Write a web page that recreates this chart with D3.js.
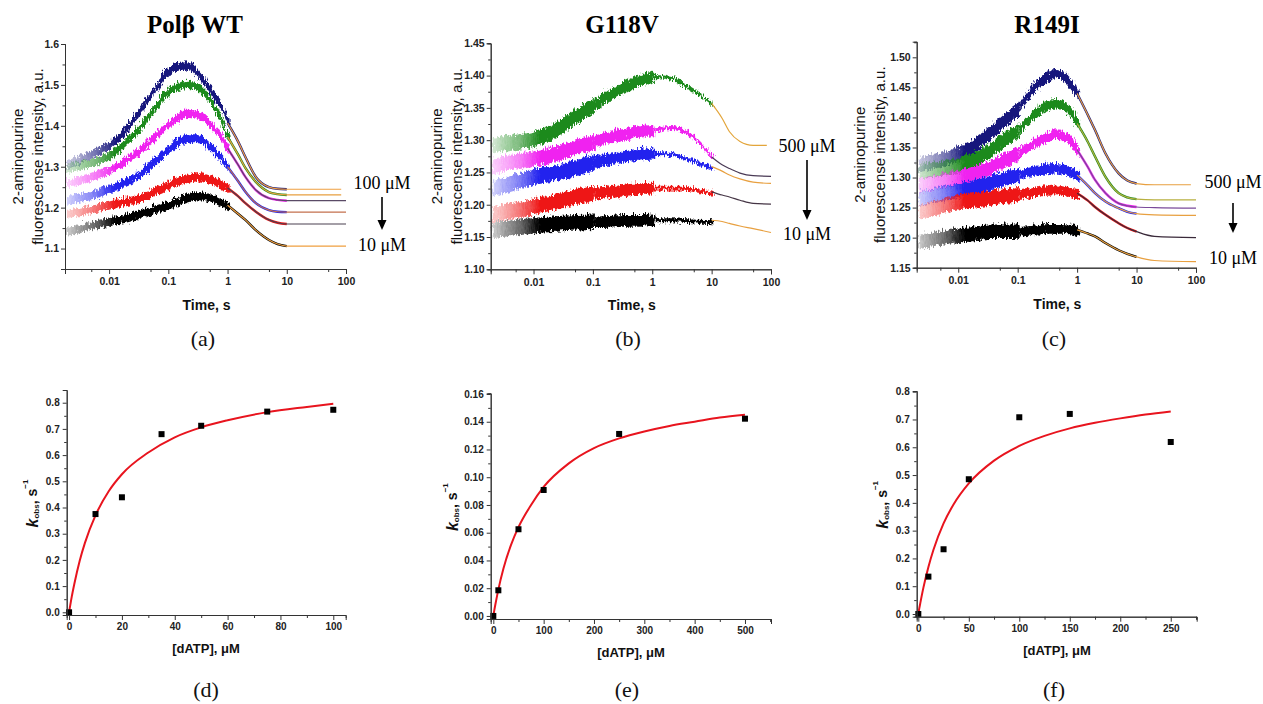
<!DOCTYPE html>
<html>
<head>
<meta charset="utf-8">
<script src="https://cdn.jsdelivr.net/npm/d3@7"></script>
<style>
  body { margin: 0; background: #fff; }
  svg { display: block; }
</style>
</head>
<body>
<svg id="fig" width="1263" height="704"></svg>
<script>
// Trace colours, highest concentration first
const traceColors = ["#16167c", "#1c8a1c", "#f024f0", "#2020ee", "#ee1616", "#000000"];

// (a) Polβ WT – stopped-flow traces (noisy part, up to 1 s)
const wtTimes = [0.0018, 0.005, 0.01, 0.02, 0.03, 0.05, 0.1, 0.2, 0.3, 0.5, 0.7, 1];
const wtTraces = [
    [1.309, 1.336, 1.358, 1.402, 1.439, 1.483, 1.540, 1.550, 1.532, 1.488, 1.455, 1.407],
    [1.300, 1.315, 1.333, 1.370, 1.397, 1.440, 1.490, 1.505, 1.498, 1.463, 1.425, 1.373],
    [1.262, 1.280, 1.297, 1.322, 1.341, 1.370, 1.410, 1.434, 1.430, 1.407, 1.380, 1.345],
    [1.222, 1.235, 1.250, 1.270, 1.284, 1.310, 1.348, 1.372, 1.372, 1.350, 1.328, 1.300],
    [1.190, 1.200, 1.211, 1.220, 1.226, 1.240, 1.260, 1.276, 1.279, 1.272, 1.262, 1.248],
    [1.145, 1.160, 1.170, 1.180, 1.187, 1.197, 1.211, 1.228, 1.233, 1.226, 1.218, 1.206]
];
const wtBreaks = [];
const wtNoise = [0.010];
const wtFitTimes = [1, 1.5, 2, 3, 5, 7, 10, 100];
const wtFits = [
    [1.407, 1.362, 1.324, 1.275, 1.250, 1.246, 1.245, 1.245],
    [1.373, 1.330, 1.297, 1.263, 1.238, 1.233, 1.231, 1.231],
    [1.345, 1.305, 1.275, 1.243, 1.223, 1.219, 1.217, 1.217],
    [1.300, 1.265, 1.239, 1.211, 1.194, 1.190, 1.189, 1.189],
    [1.248, 1.228, 1.211, 1.190, 1.170, 1.163, 1.160, 1.160],
    [1.206, 1.185, 1.170, 1.145, 1.121, 1.111, 1.106, 1.106]
];
const wtFitEnds = [83, 83, 100, 100, 100, 100];
const wtFitColors = ["#f0a040", "#e8a040", "#5a4a66", "#c4704e", "#4a4050", "#f0a040"];

// (b) G118V
const g118vTimes = [0.0019, 0.005, 0.01, 0.02, 0.03, 0.05, 0.1, 0.2, 0.3, 0.5, 1, 2, 3, 5, 10];
const g118vTraces = [
    [1.295, 1.300, 1.305, 1.316, 1.326, 1.340, 1.357, 1.375, 1.383, 1.393, 1.401, 1.398, 1.390, 1.378, 1.357],
    [1.262, 1.270, 1.274, 1.280, 1.285, 1.292, 1.300, 1.308, 1.311, 1.315, 1.318, 1.322, 1.318, 1.305, 1.274],
    [1.228, 1.238, 1.246, 1.251, 1.254, 1.260, 1.269, 1.274, 1.277, 1.280, 1.282, 1.280, 1.276, 1.269, 1.259],
    [1.187, 1.195, 1.200, 1.206, 1.210, 1.215, 1.220, 1.223, 1.225, 1.227, 1.228, 1.228, 1.228, 1.225, 1.220],
    [1.163, 1.168, 1.171, 1.173, 1.174, 1.175, 1.176, 1.177, 1.178, 1.178, 1.179, 1.179, 1.178, 1.177, 1.176]
];
const g118vBreaks = [0.1, 1];
const g118vNoise = [0.012, 0.009, 0.003];
const g118vFitTimes = [10, 15, 20, 30, 50, 100];
const g118vFits = [
    [1.357, 1.334, 1.313, 1.298, 1.292, 1.292],
    [1.274, 1.262, 1.256, 1.249, 1.245, 1.244],
    [1.259, 1.252, 1.246, 1.240, 1.235, 1.233],
    [1.220, 1.215, 1.212, 1.207, 1.202, 1.201],
    [1.176, 1.174, 1.171, 1.167, 1.163, 1.157]
];
const g118vFitEnds = [85, 100, 100, 100, 100];
const g118vFitColors = ["#e3a53a", "#4a3a55", "#e8a040", "#453545", "#e8a040"];

// (c) R149I
const r149iTimes = [0.002, 0.005, 0.01, 0.02, 0.03, 0.05, 0.1, 0.2, 0.3, 0.4, 0.5, 0.7, 1];
const r149iTraces = [
    [1.324, 1.333, 1.343, 1.360, 1.374, 1.393, 1.418, 1.457, 1.470, 1.476, 1.474, 1.462, 1.440],
    [1.312, 1.318, 1.324, 1.336, 1.346, 1.362, 1.382, 1.412, 1.422, 1.426, 1.424, 1.414, 1.390],
    [1.290, 1.297, 1.304, 1.312, 1.318, 1.328, 1.343, 1.362, 1.370, 1.374, 1.373, 1.366, 1.346],
    [1.268, 1.275, 1.282, 1.288, 1.293, 1.299, 1.307, 1.315, 1.317, 1.318, 1.317, 1.313, 1.304],
    [1.246, 1.255, 1.263, 1.266, 1.268, 1.271, 1.274, 1.279, 1.281, 1.282, 1.281, 1.279, 1.274],
    [1.196, 1.202, 1.207, 1.210, 1.213, 1.213, 1.213, 1.216, 1.218, 1.218, 1.218, 1.217, 1.213]
];
const r149iBreaks = [0.1];
const r149iNoise = [0.012, 0.008];
const r149iFitTimes = [1, 1.5, 2, 3, 5, 7, 10, 20, 100];
const r149iFits = [
    [1.440, 1.405, 1.379, 1.340, 1.307, 1.295, 1.290, 1.288, 1.288],
    [1.390, 1.360, 1.335, 1.301, 1.274, 1.267, 1.264, 1.263, 1.263],
    [1.346, 1.318, 1.296, 1.274, 1.257, 1.253, 1.251, 1.250, 1.249],
    [1.304, 1.287, 1.274, 1.260, 1.249, 1.243, 1.240, 1.238, 1.237],
    [1.274, 1.262, 1.251, 1.238, 1.224, 1.216, 1.210, 1.202, 1.200],
    [1.213, 1.207, 1.202, 1.191, 1.179, 1.173, 1.168, 1.162, 1.160]
];
const r149iFitEnds = [82, 100, 100, 100, 100, 100];
const r149iFitColors = ["#e8a040", "#b8b040", "#7a4a9a", "#e8a040", "#3a2a3a", "#e8a040"];

// (d)-(f) kobs vs [dATP]
const dConc = [0, 10, 20, 35, 50, 75, 100];
const dKobs = [0, 0.375, 0.439, 0.680, 0.712, 0.766, 0.773];
const dFitConc = [0, 1, 2, 4, 6, 10, 15, 20, 30, 40, 50, 60, 75, 90, 100];
const dFitK = [0, 0.059, 0.109, 0.196, 0.265, 0.370, 0.462, 0.527, 0.610, 0.668, 0.706, 0.733, 0.764, 0.784, 0.796];

const eConc = [0, 10, 50, 100, 250, 500];
const eKobs = [0, 0.0185, 0.0625, 0.0908, 0.1312, 0.1422];
const eFitConc = [0, 2, 5, 10, 20, 35, 50, 75, 100, 150, 200, 250, 300, 350, 400, 450, 500];
const eFitK = [0, 0.0042, 0.0100, 0.0190, 0.0340, 0.0510, 0.0640, 0.0800, 0.0930, 0.1100, 0.1210, 0.1280, 0.1330, 0.1370, 0.1400, 0.1430, 0.1450];

const fConc = [0, 10, 25, 50, 100, 150, 250];
const fKobs = [0, 0.1345, 0.233, 0.485, 0.708, 0.720, 0.619];
const fFitConc = [0, 1, 2, 5, 10, 15, 25, 35, 50, 75, 100, 125, 150, 175, 200, 225, 250];
const fFitK = [0, 0.021, 0.040, 0.094, 0.169, 0.231, 0.326, 0.395, 0.470, 0.552, 0.605, 0.641, 0.668, 0.688, 0.704, 0.718, 0.729];

const svg = d3.select("#fig");
const defs = svg.append("defs");

// jagged texture for the noisy traces
const jitter = defs.append("filter").attr("id", "jitter")
    .attr("x", "-5%").attr("y", "-20%").attr("width", "110%").attr("height", "140%");
jitter.append("feTurbulence").attr("type", "turbulence")
    .attr("baseFrequency", "0.9 0.12").attr("numOctaves", 2).attr("seed", 4).attr("result", "t");
jitter.append("feDisplacementMap").attr("in", "SourceGraphic").attr("in2", "t")
    .attr("scale", 7).attr("xChannelSelector", "R").attr("yChannelSelector", "G");

const sans = "'Liberation Sans', Arial, sans-serif";
const serif = "'Liberation Serif', 'Times New Roman', serif";

function styleAxis(sel, size) {
    sel.attr("font-family", sans).attr("font-size", size).attr("font-weight", "bold");
    sel.selectAll("path, line").attr("stroke", "#333");
    sel.selectAll("text").attr("fill", "#222");
}

function drawAxes(g, x, y, opt) {
    let xa = g.append("g").attr("transform", `translate(0,${opt.bottom})`)
        .call(d3.axisBottom(x).tickValues(opt.xMajor).tickSize(5).tickPadding(opt.xPad).tickFormat(opt.xFormat));
    styleAxis(xa, opt.fontSize);
    let xm = g.append("g").attr("transform", `translate(0,${opt.bottom})`)
        .call(d3.axisBottom(x).tickValues(opt.xMinor).tickSize(3).tickFormat(""));
    styleAxis(xm, opt.fontSize);
    let ya = g.append("g").attr("transform", `translate(${opt.left},0)`)
        .call(d3.axisLeft(y).tickValues(opt.yMajor).tickSize(4).tickPadding(opt.yPad).tickFormat(opt.yFormat));
    styleAxis(ya, opt.fontSize);
    let ym = g.append("g").attr("transform", `translate(${opt.left},0)`)
        .call(d3.axisLeft(y).tickValues(opt.yMinor).tickSize(2.5).tickFormat(""));
    styleAxis(ym, opt.fontSize);
}

function kineticPanel(p) {
    const g = svg.append("g");
    const x = d3.scaleLog().domain(p.xDomain).range([p.left, p.right]);
    const y = d3.scaleLinear().domain(p.yDomain).range([p.bottom, p.top]);

    // noisy traces as bands, fading out towards the sparse early times
    const bands = g.append("g").attr("filter", "url(#jitter)");
    const cuts = [p.times[0]].concat(p.breaks, [p.times[p.times.length - 1]]);
    p.traces.forEach((vals, i) => {
        const gid = `fade-${p.id}-${i}`;
        const col = traceColors[p.colorIndex[i]];
        const grad = defs.append("linearGradient").attr("id", gid)
            .attr("gradientUnits", "userSpaceOnUse")
            .attr("x1", x(p.times[0])).attr("x2", x(0.012)).attr("y1", 0).attr("y2", 0);
        grad.append("stop").attr("offset", 0).attr("stop-color", col).attr("stop-opacity", 0.2);
        grad.append("stop").attr("offset", 0.6).attr("stop-color", col).attr("stop-opacity", 0.6);
        grad.append("stop").attr("offset", 1).attr("stop-color", col).attr("stop-opacity", 1);

        const pts = p.times.map((t, j) => ({t: t, v: vals[j]}));
        for (let s = 0; s < cuts.length - 1; s++) {
            const seg = pts.filter(d => d.t >= cuts[s] && d.t <= cuts[s + 1]);
            const n = p.noise[s];
            bands.append("path").datum(seg)
                .attr("d", d3.area()
                    .x(d => x(d.t))
                    .y0(d => y(d.v - n))
                    .y1(d => y(d.v + n))
                    .curve(d3.curveMonotoneX))
                .attr("fill", `url(#${gid})`);
        }
    });

    // fitted curves and plateaus
    const line = d3.line().x(d => x(d.t)).y(d => y(d.v)).curve(d3.curveMonotoneX);
    p.fits.forEach((vals, i) => {
        const last = vals.length - 1;
        const pts = p.fitTimes.map((t, j) => ({t: j === last ? p.fitEnds[i] : t, v: vals[j]}));
        const colored = pts.filter(d => d.t <= 10);
        if (colored.length > 1) {
            g.append("path").datum(colored).attr("d", line)
                .attr("fill", "none").attr("stroke", traceColors[p.colorIndex[i]]).attr("stroke-width", 2.4);
        }
        g.append("path").datum(pts).attr("d", line)
            .attr("fill", "none").attr("stroke", p.fitColors[i]).attr("stroke-width", 1.2);
    });

    drawAxes(g, x, y, {
        left: p.left, bottom: p.bottom, fontSize: 10.5,
        xMajor: [0.01, 0.1, 1, 10, 100], xMinor: [0.005, 0.05, 0.5, 5, 50],
        xFormat: d => String(d), xPad: 4,
        yMajor: p.yMajor, yMinor: p.yMinor, yFormat: d3.format(p.yFmt), yPad: 2
    });

    const midY = (p.top + p.bottom) / 2;
    [["2-aminopurine", p.yTitleX[0]], ["fluorescense intensity, a.u.", p.yTitleX[1]]].forEach(([txt, off]) => {
        g.append("text")
            .attr("transform", `translate(${p.left - off},${midY}) rotate(-90)`)
            .attr("text-anchor", "middle").attr("dominant-baseline", "central")
            .attr("font-family", sans).attr("font-size", 15).attr("fill", "#111")
            .text(txt);
    });
    g.append("text").attr("x", (p.left + p.right) / 2 + 1).attr("y", p.bottom + 41)
        .attr("text-anchor", "middle").attr("font-family", sans).attr("font-size", 14)
        .attr("font-weight", "bold").attr("fill", "#111").text("Time, s");

    g.append("text").attr("x", p.titleX).attr("y", 33)
        .attr("text-anchor", "middle").attr("font-family", serif).attr("font-size", 25)
        .attr("font-weight", "bold").attr("fill", "#000").text(p.title);

    g.append("text").attr("x", p.letterX).attr("y", 346)
        .attr("text-anchor", "middle").attr("font-family", serif).attr("font-size", 22)
        .attr("fill", "#111").text(p.letter);

    // concentration annotation
    const a = p.arrow;
    g.append("text").attr("x", a.x).attr("y", a.topY).attr("text-anchor", "middle")
        .attr("dominant-baseline", "central").attr("font-family", serif).attr("font-size", 18)
        .attr("fill", "#000").text(p.highLabel);
    g.append("text").attr("x", a.x).attr("y", a.botY).attr("text-anchor", "middle")
        .attr("dominant-baseline", "central").attr("font-family", serif).attr("font-size", 18)
        .attr("fill", "#000").text("10 μM");
    g.append("line").attr("x1", a.x).attr("x2", a.x).attr("y1", a.y1).attr("y2", a.y2 - 8)
        .attr("stroke", "#000").attr("stroke-width", 1.6);
    g.append("path")
        .attr("d", `M${a.x - 4.5},${a.y2 - 10}L${a.x + 4.5},${a.y2 - 10}L${a.x},${a.y2}Z`)
        .attr("fill", "#000");
}

function bindingPanel(p) {
    const g = svg.append("g");
    const x = d3.scaleLinear().domain(p.xDomain).range([p.left, p.right]);
    const y = d3.scaleLinear().domain(p.yDomain).range([p.bottom, p.top]);

    const fit = p.fitX.map((c, i) => ({c: c, k: p.fitY[i]}));
    g.append("path").datum(fit)
        .attr("d", d3.line().x(d => x(d.c)).y(d => y(d.k)).curve(d3.curveMonotoneX))
        .attr("fill", "none").attr("stroke", "#e8141e").attr("stroke-width", 2);

    const pts = p.conc.map((c, i) => ({c: c, k: p.kobs[i]}));
    g.selectAll("rect.pt").data(pts).enter().append("rect")
        .attr("x", d => x(d.c) - 3).attr("y", d => y(d.k) - 3)
        .attr("width", 6).attr("height", 6).attr("fill", "#000");

    drawAxes(g, x, y, {
        left: p.left, bottom: p.bottom, fontSize: 10,
        xMajor: p.xMajor, xMinor: p.xMinor, xFormat: d3.format("d"), xPad: 3,
        yMajor: p.yMajor, yMinor: p.yMinor, yFormat: d3.format(p.yFmt), yPad: 3
    });

    const midY = (p.top + p.bottom) / 2 + 1;
    const lab = g.append("text")
        .attr("transform", `translate(${p.left - p.yTitleX},${midY}) rotate(-90)`)
        .attr("text-anchor", "middle").attr("dominant-baseline", "central")
        .attr("font-family", sans).attr("font-weight", "bold").attr("fill", "#111");
    lab.append("tspan").attr("font-size", 16).attr("font-style", "italic").text("k");
    lab.append("tspan").attr("font-size", 8).attr("baseline-shift", "-4").text("obs");
    lab.append("tspan").attr("font-size", 14).text(", s");
    lab.append("tspan").attr("font-size", 8).attr("baseline-shift", "7").text("−1");

    g.append("text").attr("x", p.titleX).attr("y", p.bottom + 38)
        .attr("text-anchor", "middle").attr("font-family", sans).attr("font-size", 13)
        .attr("font-weight", "bold").attr("fill", "#111").text("[dATP], μM");

    g.append("text").attr("x", p.letterX).attr("y", 697)
        .attr("text-anchor", "middle").attr("font-family", serif).attr("font-size", 22)
        .attr("fill", "#111").text(p.letter);
}

kineticPanel({
    id: "a", title: "Polβ WT", titleX: 195, letter: "(a)", letterX: 203,
    left: 65, right: 346, top: 44, bottom: 269,
    xDomain: [0.0018, 100], yDomain: [1.05, 1.6],
    yMajor: [1.1, 1.2, 1.3, 1.4, 1.5, 1.6], yMinor: [1.05, 1.15, 1.25, 1.35, 1.45, 1.55], yFmt: ".1f",
    yTitleX: [48, 28],
    times: wtTimes, traces: wtTraces, breaks: wtBreaks, noise: wtNoise,
    fitTimes: wtFitTimes, fits: wtFits, fitEnds: wtFitEnds, fitColors: wtFitColors,
    colorIndex: [0, 1, 2, 3, 4, 5],
    highLabel: "100 μM", arrow: {x: 382, topY: 183, botY: 245, y1: 197, y2: 230}
});

kineticPanel({
    id: "b", title: "G118V", titleX: 622, letter: "(b)", letterX: 628,
    left: 490.7, right: 771, top: 43.3, bottom: 269.3,
    xDomain: [0.0019, 100], yDomain: [1.10, 1.45],
    yMajor: [1.10, 1.15, 1.20, 1.25, 1.30, 1.35, 1.40, 1.45],
    yMinor: [1.125, 1.175, 1.225, 1.275, 1.325, 1.375, 1.425], yFmt: ".2f",
    yTitleX: [54, 34],
    times: g118vTimes, traces: g118vTraces, breaks: g118vBreaks, noise: g118vNoise,
    fitTimes: g118vFitTimes, fits: g118vFits, fitEnds: g118vFitEnds, fitColors: g118vFitColors,
    colorIndex: [1, 2, 3, 4, 5],
    highLabel: "500 μM", arrow: {x: 807, topY: 146, botY: 234, y1: 160, y2: 220}
});

kineticPanel({
    id: "c", title: "R149I", titleX: 1047, letter: "(c)", letterX: 1054,
    left: 916.7, right: 1196, top: 41.7, bottom: 267.7,
    xDomain: [0.002, 100], yDomain: [1.15, 1.526],
    yMajor: [1.15, 1.20, 1.25, 1.30, 1.35, 1.40, 1.45, 1.50],
    yMinor: [1.175, 1.225, 1.275, 1.325, 1.375, 1.425, 1.475, 1.525], yFmt: ".2f",
    yTitleX: [57, 37],
    times: r149iTimes, traces: r149iTraces, breaks: r149iBreaks, noise: r149iNoise,
    fitTimes: r149iFitTimes, fits: r149iFits, fitEnds: r149iFitEnds, fitColors: r149iFitColors,
    colorIndex: [0, 1, 2, 3, 4, 5],
    highLabel: "500 μM", arrow: {x: 1233, topY: 182, botY: 258, y1: 203, y2: 233}
});

bindingPanel({
    letter: "(d)", letterX: 206, titleX: 206,
    left: 66.7, right: 345.7, top: 390, bottom: 615,
    xDomain: [-0.9, 104.7], yDomain: [-0.0103, 0.8485],
    xMajor: [0, 20, 40, 60, 80, 100], xMinor: [10, 30, 50, 70, 90],
    yMajor: [0, 0.1, 0.2, 0.3, 0.4, 0.5, 0.6, 0.7, 0.8], yMinor: [0.05, 0.15, 0.25, 0.35, 0.45, 0.55, 0.65, 0.75], yFmt: ".1f",
    yTitleX: 35,
    conc: dConc, kobs: dKobs, fitX: dFitConc, fitY: dFitK
});

bindingPanel({
    letter: "(e)", letterX: 627, titleX: 631,
    left: 490.7, right: 771, top: 393.3, bottom: 619,
    xDomain: [-5.2, 551.7], yDomain: [-0.0022, 0.1605],
    xMajor: [0, 100, 200, 300, 400, 500], xMinor: [50, 150, 250, 350, 450, 550],
    yMajor: [0, 0.02, 0.04, 0.06, 0.08, 0.10, 0.12, 0.14, 0.16],
    yMinor: [0.01, 0.03, 0.05, 0.07, 0.09, 0.11, 0.13, 0.15], yFmt: ".2f",
    yTitleX: 39,
    conc: eConc, kobs: eKobs, fitX: eFitConc, fitY: eFitK
});

bindingPanel({
    letter: "(f)", letterX: 1054, titleX: 1057,
    left: 916.7, right: 1196.7, top: 391, bottom: 616.7,
    xDomain: [-1.6, 275.7], yDomain: [-0.0097, 0.8025],
    xMajor: [0, 50, 100, 150, 200, 250], xMinor: [25, 75, 125, 175, 225, 275],
    yMajor: [0, 0.1, 0.2, 0.3, 0.4, 0.5, 0.6, 0.7, 0.8], yMinor: [0.05, 0.15, 0.25, 0.35, 0.45, 0.55, 0.65, 0.75], yFmt: ".1f",
    yTitleX: 35,
    conc: fConc, kobs: fKobs, fitX: fFitConc, fitY: fFitK
});
</script>
</body>
</html>
